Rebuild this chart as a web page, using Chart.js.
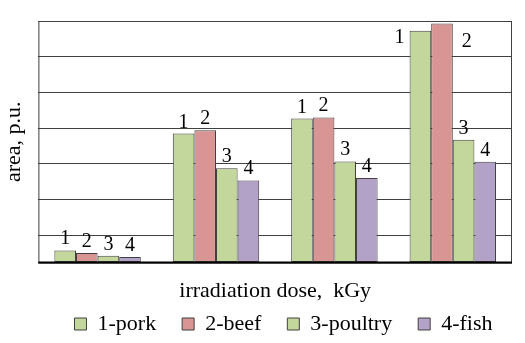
<!DOCTYPE html>
<html>
<head>
<meta charset="utf-8">
<script src="https://cdn.jsdelivr.net/npm/chart.js@4"></script>
<style>
  html, body { margin: 0; padding: 0; background: #fff; }
  #wrap { width: 525px; height: 343px; }
</style>
</head>
<body>
<div id="wrap"><canvas id="barChart"></canvas></div>
<script>
// ---------- DATA ----------
const doses = ['dose 1', 'dose 2', 'dose 3', 'dose 4'];
const seriesNames = ['1-pork', '2-beef', '3-poultry', '4-fish'];
const barMarks = ['1', '2', '3', '4'];
const pork = [0.34, 3.61, 4.03, 6.49];
const beef = [0.27, 3.70, 4.06, 6.69];
const poultry = [0.19, 2.64, 2.83, 3.44];
const fish = [0.16, 2.30, 2.37, 2.82];
const gridValues = [0, 0.76, 1.76, 2.76, 3.76, 4.76, 5.76, 6.76];

const colors = ['#c3d69b', '#d99594', '#c3d69b', '#b3a2c7'];
const serif = 'Liberation Serif';

// numbers over the bars (beside the bar when there's no room above)
const barNumbers = {
  id: 'barNumbers',
  afterDatasetsDraw(chart) {
    const ctx = chart.ctx;
    const area = chart.chartArea;
    ctx.save();
    ctx.font = '20px "Liberation Serif"';
    ctx.fillStyle = '#000';
    ctx.textAlign = 'center';
    ctx.textBaseline = 'alphabetic';
    chart.data.datasets.forEach((ds, i) => {
      chart.getDatasetMeta(i).data.forEach(bar => {
        let x = bar.x;
        let y = bar.y - 6;
        if (y - 14 < area.top) {
          if (i === 0) { x = bar.x - bar.width / 2 - 10; y = bar.y + 12; }
          else { x = bar.x + bar.width / 2 + 14; y = bar.y + 23; }
        }
        ctx.fillText(barMarks[i], x, y);
      });
    });
    ctx.restore();
  }
};

// box round the plot area
const frame = {
  id: 'frame',
  afterDraw(chart) {
    const a = chart.chartArea;
    const ctx = chart.ctx;
    ctx.save();
    ctx.strokeStyle = '#404040';
    ctx.lineWidth = 1;
    ctx.strokeRect(a.left + 0.5, a.top + 0.5, a.right - a.left - 1, a.bottom - a.top);
    ctx.strokeStyle = '#000';
    ctx.lineWidth = 2;
    ctx.beginPath();
    ctx.moveTo(a.left, a.bottom);
    ctx.lineTo(a.right, a.bottom);
    ctx.stroke();
    ctx.restore();
  }
};

// legend sits a bit right of the canvas centre in the original
const legendShift = {
  id: 'legendShift',
  afterLayout(chart) {
    chart.legend.left += 27;
    chart.legend.right += 27;
  }
};

const seriesData = [pork, beef, poultry, fish];

const ctxBar = document.getElementById('barChart').getContext('2d');
const barChart = new Chart(ctxBar, {
  type: 'bar',
  data: {
    labels: doses,
    datasets: seriesData.map((d, i) => ({
      label: seriesNames[i],
      data: d,
      backgroundColor: colors[i],
      borderColor: '#404040',
      borderWidth: 1,
      borderSkipped: false,
      categoryPercentage: 0.73,
      barPercentage: 1
    }))
  },
  options: {
    responsive: true,
    maintainAspectRatio: false,
    animation: false,
    layout: { padding: { left: 1, right: 13, top: 21, bottom: -2 } },
    plugins: {
      legend: {
        display: true,
        position: 'bottom',
        labels: {
          color: '#000',
          font: { family: serif, size: 22 },
          boxWidth: 12,
          boxHeight: 12,
          padding: 26,
          generateLabels(chart) {
            return chart.data.datasets.map((ds, i) => ({
              text: ds.label,
              fillStyle: ds.backgroundColor,
              strokeStyle: '#404040',
              lineWidth: 1,
              datasetIndex: i
            }));
          }
        }
      },
      tooltip: { enabled: false }
    },
    scales: {
      x: {
        grid: { display: false },
        border: { display: false },
        ticks: { display: false },
        title: {
          display: true,
          text: 'irradiation dose,  kGy',
          color: '#000',
          font: { family: serif, size: 22 },
          padding: { top: 7, bottom: -17 }
        }
      },
      y: {
        min: 0,
        max: 6.76,
        afterBuildTicks(scale) {
          scale.ticks = gridValues.map(v => ({ value: v }));
        },
        grid: { color: '#404040', lineWidth: 1, drawTicks: false },
        border: { display: false },
        ticks: { display: false },
        title: {
          display: true,
          text: 'area, p.u.',
          color: '#000',
          font: { family: serif, size: 22 },
          padding: { top: 0, bottom: 11 }
        }
      }
    }
  },
  plugins: [barNumbers, frame, legendShift]
});
</script>
</body>
</html>
